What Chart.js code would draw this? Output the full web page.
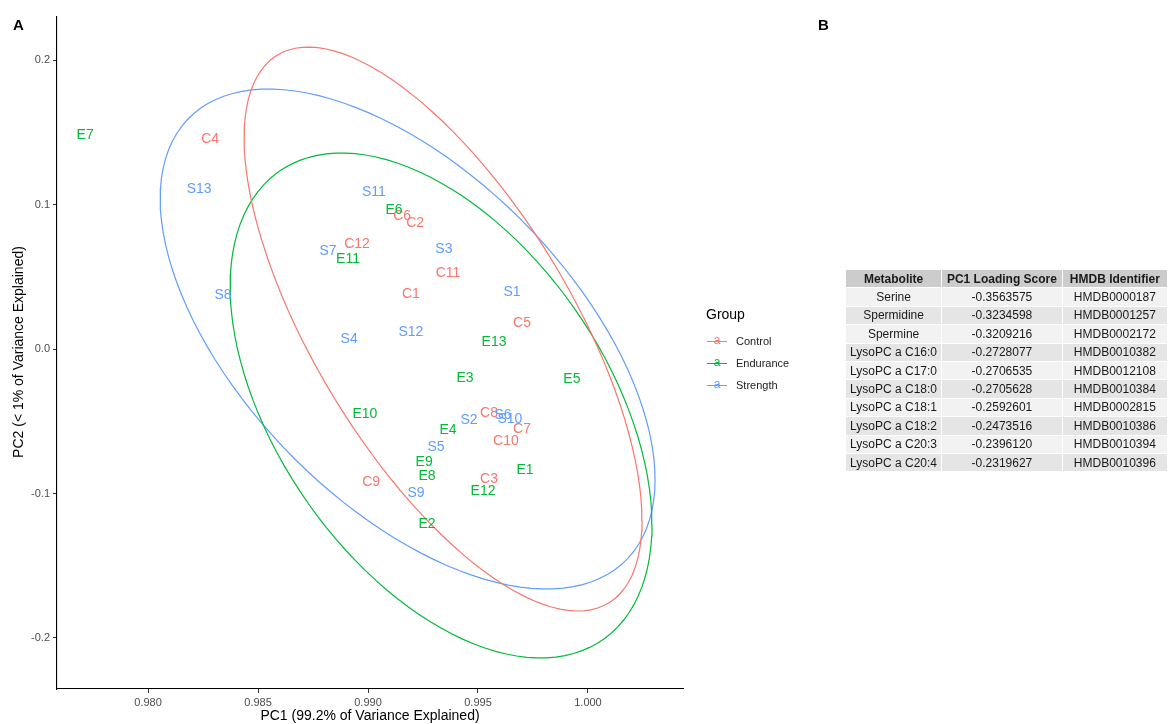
<!DOCTYPE html>
<html>
<head>
<meta charset="utf-8">
<script src="https://cdn.jsdelivr.net/npm/chart.js@4/dist/chart.umd.min.js"></script>
<style>
  html, body { margin:0; padding:0; background:#fff; width:1168px; height:724px; overflow:hidden; font-family:"Liberation Sans", Arial, sans-serif; }
  #wrap { position:relative; width:1168px; height:724px; }
  canvas { position:absolute; left:0; top:0; }
  .abs { position:absolute; white-space:nowrap; }
  .panel { font-weight:bold; font-size:15px; color:#000; }
  .axt { font-size:14px; color:#000; }
  #legend .title { font-size:14px; color:#000; }
  #legend .lab { font-size:11px; color:#222; }
  .key { position:absolute; width:20px; height:14px; }
  .key .ln { position:absolute; left:0; right:0; top:7px; height:1px; }
  .key .a { position:absolute; left:0; right:0; top:-1px; text-align:center; font-size:12px; line-height:14px; }
  table { position:absolute; left:845px; top:269px; border-collapse:collapse; font-size:12px; color:#1a1a1a; table-layout:fixed; }
  tr { height:18.4px; }
  td, th { border:1.5px solid #fff; text-align:center; padding:0; line-height:14px; overflow:hidden; white-space:nowrap; }
  th { background:#cccccc; font-weight:bold; }
  tr.odd td { background:#f2f2f2; }
  tr.even td { background:#e5e5e5; }
</style>
</head>
<body>
<div id="wrap">
  <canvas id="c" width="1168" height="724"></canvas>
  <div class="abs panel" style="left:13px; top:16px;">A</div>
  <div class="abs panel" style="left:818px; top:16px;">B</div>
  <div class="abs axt" id="xt" style="left:57px; width:626px; text-align:center; top:707px;">PC1 (99.2% of Variance Explained)</div>
  <div class="abs axt" id="yt" style="left:-318px; top:344px; width:672px; text-align:center; transform:rotate(-90deg);">PC2 (&lt; 1% of Variance Explained)</div>
  <div id="legend"></div>
  <table id="tbl"></table>
</div>
<script>
// ---------------- data ----------------
const groups = ["Control", "Endurance", "Strength"];
const groupColors = ["#F8766D", "#00BA38", "#619CFF"];

const controlLabels = ["C1","C2","C3","C4","C5","C6","C7","C8","C9","C10","C11","C12"];
const controlPC1 = [0.99195, 0.99214, 0.99550, 0.98282, 0.99700, 0.99155, 0.99700, 0.99550, 0.99014, 0.99627, 0.99364, 0.98950];
const controlPC2 = [0.0388, 0.0879, -0.0893, 0.1460, 0.0187, 0.0927, -0.0547, -0.0436, -0.0913, -0.0630, 0.0533, 0.0734];

const enduranceLabels = ["E1","E2","E3","E4","E5","E6","E7","E8","E9","E10","E11","E12","E13"];
const endurancePC1 = [0.99714, 0.99268, 0.99441, 0.99364, 0.99927, 0.99118, 0.97714, 0.99268, 0.99255, 0.98986, 0.98909, 0.99523, 0.99573];
const endurancePC2 = [-0.0830, -0.1204, -0.0194, -0.0554, -0.0201, 0.0969, 0.1488, -0.0872, -0.0775, -0.0443, 0.0630, -0.0976, 0.0055];

const strengthLabels = ["S1","S2","S3","S4","S5","S6","S7","S8","S9","S10","S11","S12","S13"];
const strengthPC1 = [0.99655, 0.99459, 0.99345, 0.98914, 0.99309, 0.99614, 0.98818, 0.98341, 0.99218, 0.99645, 0.99027, 0.99195, 0.98232];
const strengthPC2 = [0.0401, -0.0484, 0.0699, 0.0076, -0.0671, -0.0450, 0.0685, 0.0380, -0.0990, -0.0478, 0.1093, 0.0125, 0.1114];

// 95% ellipse parameters per group (Control, Endurance, Strength)
const ellipseCenterX = [0.99341, 0.99332, 0.99180];
const ellipseCenterY = [0.01384, -0.0391, 0.00692];
const ellipseHalfWidth = [0.009045, 0.00959, 0.01125];
const ellipseHalfHeight = [0.19516, 0.17474, 0.17301];
const ellipseCorr = [-0.678, -0.472, -0.562];

const xTicks = [0.980, 0.985, 0.990, 0.995, 1.000];
const yTicks = [-0.2, -0.1, 0.0, 0.1, 0.2];
const xRange = [0.97586, 1.00432];
const yRange = [-0.2353, 0.2298];

const tableHeader = ["Metabolite", "PC1 Loading Score", "HMDB Identifier"];
const metabolites = ["Serine","Spermidine","Spermine","LysoPC a C16:0","LysoPC a C17:0","LysoPC a C18:0","LysoPC a C18:1","LysoPC a C18:2","LysoPC a C20:3","LysoPC a C20:4"];
const loadingScores = ["-0.3563575","-0.3234598","-0.3209216","-0.2728077","-0.2706535","-0.2705628","-0.2592601","-0.2473516","-0.2396120","-0.2319627"];
const hmdbIds = ["HMDB0000187","HMDB0001257","HMDB0002172","HMDB0010382","HMDB0012108","HMDB0010384","HMDB0002815","HMDB0010386","HMDB0010394","HMDB0010396"];

// ---------------- build ----------------
const ELLIPSE_SEGMENTS = 120;
function ellipsePoints(g) {
  const cx = ellipseCenterX[g], cy = ellipseCenterY[g], sx = ellipseHalfWidth[g], sy = ellipseHalfHeight[g], r = ellipseCorr[g];
  const pts = [];
  for (let i = 0; i <= ELLIPSE_SEGMENTS; i++) {
    const t = 2 * Math.PI * i / ELLIPSE_SEGMENTS;
    pts.push({ x: cx + sx * Math.cos(t), y: cy + sy * (r * Math.cos(t) + Math.sqrt(1 - r * r) * Math.sin(t)) });
  }
  return pts;
}
function pointsOf(xs, ys, labels) { return xs.map((x, i) => ({ x: x, y: ys[i], label: labels[i] })); }

const groupPoints = [
  pointsOf(controlPC1, controlPC2, controlLabels),
  pointsOf(endurancePC1, endurancePC2, enduranceLabels),
  pointsOf(strengthPC1, strengthPC2, strengthLabels)
];

const datasets = [];
groups.forEach((g, i) => {
  datasets.push({ label: g + " ellipse", type: "scatter", data: ellipsePoints(i), showLine: true, borderColor: groupColors[i], borderWidth: 1.2, pointRadius: 0, fill: false, tension: 0 });
});
groups.forEach((g, i) => {
  datasets.push({ label: g, type: "scatter", data: groupPoints[i], pointRadius: 0, borderColor: groupColors[i], backgroundColor: groupColors[i], textLabels: true });
});

const textLabelPlugin = {
  id: "textLabels",
  afterDatasetsDraw(chart) {
    const ctx = chart.ctx;
    const xs = chart.scales.x, ys = chart.scales.y;
    ctx.save();
    ctx.font = "14px 'Liberation Sans', Arial, sans-serif";
    ctx.textAlign = "center";
    ctx.textBaseline = "middle";
    chart.data.datasets.forEach(ds => {
      if (!ds.textLabels) return;
      ctx.fillStyle = ds.backgroundColor;
      ds.data.forEach(p => {
        ctx.fillText(p.label, xs.getPixelForValue(p.x), ys.getPixelForValue(p.y) + 1);
      });
    });
    ctx.restore();
  }
};

Chart.defaults.font.family = "'Liberation Sans', Arial, sans-serif";
new Chart(document.getElementById("c"), {
  type: "scatter",
  data: { datasets: datasets },
  plugins: [textLabelPlugin],
  options: {
    responsive: false,
    animation: false,
    devicePixelRatio: 1,
    layout: { padding: { left: 0, top: 17, right: 485, bottom: 0 } },
    plugins: { legend: { display: false }, tooltip: { enabled: false } },
    scales: {
      x: {
        type: "linear", min: xRange[0], max: xRange[1],
        afterBuildTicks: s => { s.ticks = xTicks.map(v => ({ value: v })); },
        afterFit: s => { s.height = 35; },
        ticks: { color: "#4d4d4d", font: { size: 11 }, padding: 3, maxRotation: 0, autoSkip: false, callback: v => Number(v).toFixed(3) },
        grid: { display: true, drawOnChartArea: false, drawTicks: true, tickLength: 4, color: "#333333" },
        border: { display: true, color: "#000000", width: 1.1 }
      },
      y: {
        type: "linear", min: yRange[0], max: yRange[1],
        afterBuildTicks: s => { s.ticks = yTicks.map(v => ({ value: v })); },
        afterFit: s => { s.width = 57; },
        ticks: { color: "#4d4d4d", font: { size: 11 }, padding: 3, autoSkip: false, callback: v => Number(v).toFixed(1) },
        grid: { display: true, drawOnChartArea: false, drawTicks: true, tickLength: 4, color: "#333333" },
        border: { display: true, color: "#000000", width: 1.1 }
      }
    }
  }
});

// legend
const leg = document.getElementById("legend");
let html = '<div class="abs title" style="left:706px; top:306px;">Group</div>';
groups.forEach((g, i) => {
  const yc = 341 + i * 22;
  html += '<div class="key" style="left:707px; top:' + (yc - 7) + 'px;"><div class="ln" style="background:' + groupColors[i] + '"></div><div class="a" style="color:' + groupColors[i] + '">a</div></div>';
  html += '<div class="abs lab" style="left:736px; top:' + (yc - 7) + 'px; line-height:14px;">' + g + '</div>';
});
leg.innerHTML = html;

// table
const tbl = document.getElementById("tbl");
let t = '<colgroup><col style="width:100px"><col style="width:125px"><col style="width:112px"></colgroup>';
t += '<tr>' + tableHeader.map(h => '<th>' + h + '</th>').join('') + '</tr>';
metabolites.forEach((m, i) => {
  t += '<tr class="' + (i % 2 === 0 ? 'odd' : 'even') + '"><td>' + m + '</td><td>' + loadingScores[i] + '</td><td>' + hmdbIds[i] + '</td></tr>';
});
tbl.innerHTML = t;
</script>
</body>
</html>
